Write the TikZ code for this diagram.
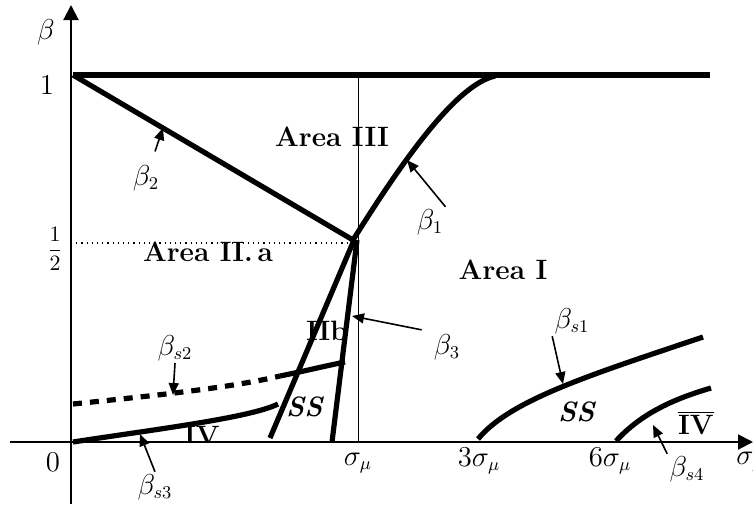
\documentclass[tikz,border=0pt]{standalone}
\usepackage{tikz}
\usetikzlibrary{arrows.meta, positioning, calc}
\tikzset{
  curve/.style={line width=2.6pt},
  axis/.style={line width=1pt, -{Triangle[length=7.5pt, width=7.5pt]}},
  arr/.style={-{Triangle[length=6pt, width=5pt]}, line width=0.8pt},
  area/.style={font=\fontsize{14}{16}\selectfont\bfseries, inner sep=1pt},
  lbl/.style={font=\fontsize{13.5}{15}\selectfont, inner sep=1pt},
}
\begin{document}
\begin{tikzpicture}[x=0.5pt, y=-0.5pt]
  \useasboundingbox (0,0) rectangle (753,504);
  % region labels
  \node[area] (a3) at (332,137) {Area III};
  \node[area] (a2) at (208,252) {Area II.\,a};
  \node[area] (a1) at (503,270) {Area I};
  \node[area] (a2b) at (327,331) {IIb};
  \node[area] (ss1) at (305,407) {\textit{SS}};
  \node[area] (ss2) at (577,412) {\textit{SS}};
  \node[area] (iv2) at (696,423) {$\overline{\mbox{\bfseries IV}}$};
  \begin{scope}
    \clip (0,0) rectangle (753,441);
    \node[area] (iv1) at (202,436) {IV};
  \end{scope}
  % axes and guide lines
  \draw[axis] (71,504) -- (71,5);
  \draw[axis] (10,442) -- (753,442);
  \draw[line width=0.5pt] (358,75) -- (358,442);
  \draw[dotted, line width=0.6pt] (71,243) -- (353,243);
  % boundaries
  \draw[curve] (73,75) -- (710,75);
  \draw[curve] (73,75) -- (353,240);
  \draw[curve] (353,240) .. controls (400,165) and (455,85) .. (495,76);
  \draw[curve] (354,240) -- (270,438);
  \draw[curve] (357,240) -- (332,442);
  \draw[curve, dash pattern=on 4.5pt off 4pt] (73,404) .. controls (150,396) and (230,388) .. (280,376);
  \draw[curve] (280,376) .. controls (305,371) and (325,366) .. (345,362);
  \draw[curve] (73,442) .. controls (150,430) and (250,418) .. (278,404);
  \draw[curve] (478,439) .. controls (510,400) and (590,375) .. (703,337);
  \draw[curve] (616,441) .. controls (640,415) and (670,400) .. (711,388);
  % axis labels
  \node[lbl, font=\fontsize{15}{17}\selectfont] (yl) at (46,32) {$\beta$};
  \node[lbl] (one) at (47,85) {$1$};
  \node[lbl, font=\fontsize{11}{13}\selectfont] (half) at (55,249) {$\displaystyle\frac{1}{2}$};
  \node[lbl] (zero) at (53,462) {$0$};
  \node[lbl] (smu) at (358,463) {$\sigma_\mu$};
  \node[lbl] (s3) at (479,461) {$3\sigma_\mu$};
  \node[lbl] (s6) at (610,461) {$6\sigma_\mu$};
  \node[lbl, anchor=west] (xl) at (734,462) {$\sigma_g$};
  % curve labels
  \node[lbl] (lb1) at (430,222) {$\beta_1$};
  \node[lbl] (lb2) at (146,178) {$\beta_2$};
  \node[lbl] (lb3) at (447,347) {$\beta_3$};
  \node[lbl] (lbs1) at (572,321) {$\beta_{s1}$};
  \node[lbl] (lbs2) at (175,348) {$\beta_{s2}$};
  \node[lbl] (lbs3) at (155,487) {$\beta_{s3}$};
  \node[lbl] (lbs4) at (687,469) {$\beta_{s4}$};
  \coordinate (tb1) at (407,160);
  \coordinate (tb2) at (163,128);
  \coordinate (tb3) at (352,316);
  \coordinate (tbs1) at (563,384);
  \coordinate (tbs2) at (173,395);
  \coordinate (tbs3) at (140,434);
  \coordinate (tbs4) at (653,425);
  \draw[arr] (lb1.north east) -- (tb1);
  \draw[arr, shorten <=6pt] (lb2) -- (tb2);
  \draw[arr, shorten <=5pt] (lb3.north west) -- (tb3);
  \draw[arr] (lbs1.south west) -- (tbs1);
  \draw[arr] (lbs2.south) -- (tbs2);
  \draw[arr] (lbs3.north) -- (tbs3);
  \draw[arr] (lbs4.north west) -- (tbs4);
\end{tikzpicture}
\end{document}
